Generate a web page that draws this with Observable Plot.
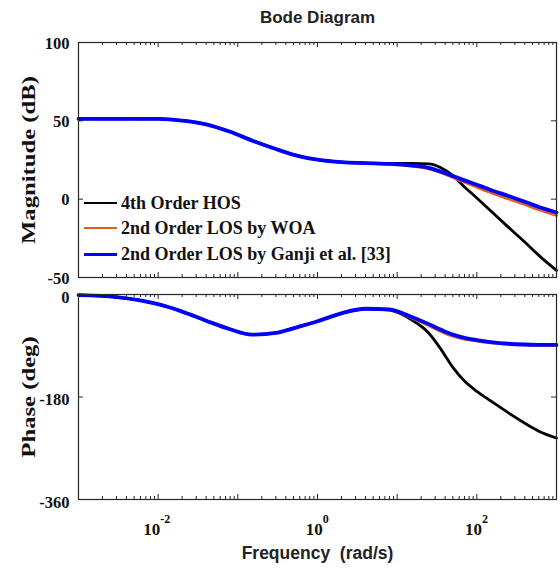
<!DOCTYPE html>
<html><head><meta charset="utf-8">
<script src="https://cdn.jsdelivr.net/npm/d3@7"></script>
<script src="https://cdn.jsdelivr.net/npm/@observablehq/plot@0.6"></script>
<style>
body{margin:0;background:#fff;}
#chart{position:relative;width:560px;height:570px;overflow:hidden;}
#chart svg{position:absolute;left:0;}
.leg{position:absolute;left:84px;font-family:"Liberation Serif",serif;font-weight:bold;font-size:18px;color:#111;white-space:nowrap;display:flex;align-items:center;}
.leg span.sw{display:inline-block;width:33px;margin-right:4px;}
</style>
</head><body><div id="chart"></div>
<script>
// Frequency samples (rad/s)
const freq = [0.001, 0.003, 0.01, 0.02, 0.04, 0.08, 0.15, 0.3, 0.6, 1, 2, 4, 8, 15, 25, 35, 50, 70, 100, 150, 250, 400, 600, 1000];
// Magnitude (dB)
const magHOS   = [51.3, 51.3, 51.2, 50.2, 47.8, 43.0, 37.5, 32.0, 27.3, 25.2, 23.6, 23.0, 22.8, 22.8, 22.5, 20.2, 15.0, 7.8, 0.8, -7.6, -18.0, -27.4, -35.9, -45.5];
const magWOA   = [51.3, 51.3, 51.2, 50.2, 47.8, 43.0, 37.5, 32.0, 27.3, 25.2, 23.6, 23.0, 22.3, 21.0, 19.3, 17.0, 13.8, 10.7, 7.6, 4.1, 0.1, -3.5, -6.8, -10.4];
const magGanji = [51.3, 51.3, 51.2, 50.2, 47.8, 43.0, 37.5, 32.0, 27.3, 25.2, 23.6, 23.0, 22.5, 21.6, 20.0, 17.7, 14.8, 12.0, 9.2, 5.9, 2.0, -1.7, -5.0, -8.5];
// Phase (deg)
const phaseHOS   = [-1, -4.5, -17, -30, -46, -61, -70.5, -67.5, -56, -47, -33, -25, -27.5, -44, -68, -95, -128, -152, -170, -187, -208, -226, -240, -252];
const phaseWOA   = [-1, -4.5, -17, -30, -46, -61, -70.5, -67.5, -56, -47, -33, -25, -26.5, -41, -55, -65, -73.5, -78.5, -82, -85, -87.5, -88.8, -89.3, -89.6];
const phaseGanji = [-1, -4.5, -17, -30, -46, -61, -70.5, -67.5, -56, -47, -33, -25, -26, -39, -52, -61.5, -70.5, -76, -80, -83.5, -86.5, -87.8, -88.3, -88.5];

const seriesNames = ["4th Order HOS", "2nd Order LOS by WOA", "2nd Order LOS by Ganji et al. [33]"];
const seriesColors = ["#000000", "#E2601F", "#0000FF"];
const seriesWidths = [2.8, 2.6, 3.8];
const magTicks = [-50, 0, 50, 100];
const phaseTicks = [-360, -180, 0];
const xLabelExps = [-2, 0, 2];
const title = "Bode Diagram";
const xTitle = "Frequency  (rad/s)";
const magTitle = "Magnitude (dB)";
const phaseTitle = "Phase (deg)";

const magSeries = [magHOS, magWOA, magGanji];
const phaseSeries = [phaseHOS, phaseWOA, phaseGanji];
function rows(series) {
  const out = [];
  series.forEach((vals, i) => vals.forEach((v, j) => out.push({s: i, x: freq[j], y: v})));
  return out;
}
const magRows = rows(magSeries);
const phaseRows = rows(phaseSeries);

const xDomain = [1e-3, 1e3];
const majorX = d3.range(-3, 4).map(e => 10 ** e);
const minorX = [];
for (let e = -3; e < 3; e++) for (let k = 2; k <= 9; k++) minorX.push(k * 10 ** e);

const W = 560, ML = 78, MR = 4;
const innerW = W - ML - MR;
const serif = "Liberation Serif, Times New Roman, serif";
const sans = "Liberation Sans, Arial, sans-serif";

function panel({data, domain, ticks, label, height, marginTop, marginBottom, tickDy, extra}) {
  const innerH = height - marginTop - marginBottom;
  const lineMarks = [0, 1, 2].map(i => Plot.line(data.filter(d => d.s === i), {
    x: "x", y: "y", stroke: seriesColors[i], strokeWidth: seriesWidths[i], curve: "monotone-x"
  }));
  const svg = Plot.plot({
    width: W, height, marginLeft: ML, marginRight: MR, marginTop, marginBottom,
    x: {type: "log", domain: xDomain, axis: null},
    y: {domain, axis: null},
    style: {fontFamily: serif, background: "transparent"},
    marks: [
      ...lineMarks,
      Plot.frame({stroke: "#262626", strokeWidth: 1.2}),
      Plot.tickX(minorX, {x: d => d, insetTop: innerH - 3, stroke: "#262626"}),
      Plot.tickX(majorX, {x: d => d, insetTop: innerH - 5, stroke: "#262626"}),
      Plot.tickX(minorX, {x: d => d, insetBottom: innerH - 3, stroke: "#262626"}),
      Plot.tickX(majorX, {x: d => d, insetBottom: innerH - 5, stroke: "#262626"}),
      Plot.tickY(ticks, {y: d => d, insetRight: innerW - 5, stroke: "#262626"}),
      Plot.tickY(ticks, {y: d => d, insetLeft: innerW - 5, stroke: "#262626"}),
      Plot.text(ticks, {y: d => d, frameAnchor: "left", dx: -9, dy: tickDy, textAnchor: "end", lineAnchor: "middle",
        text: d => String(d), fontSize: 16.5, fontWeight: "bold", fontFamily: serif, fill: "#111"}),
      Plot.text([label], {frameAnchor: "left", dx: -50, rotate: -90, textAnchor: "middle", lineAnchor: "middle",
        text: d => d, fontSize: 19, fontWeight: "bold", fontFamily: serif, fill: "#111", className: "ylab"}),
      ...(extra || [])
    ]
  });
  // the reference's rotated axis titles are drawn elongated along their reading direction
  d3.select(svg).selectAll(".ylab text").attr("transform", function () {
    return (this.getAttribute("transform") || "") + " scale(1.3,1)";
  });
  return svg;
}

const chart = document.getElementById("chart");

const p1 = panel({
  data: magRows, domain: [-50, 100], ticks: magTicks, label: magTitle,
  height: 300, marginTop: 42, marginBottom: 23, tickDy: 1,
  extra: [Plot.text([title], {frameAnchor: "top", dy: -25, lineAnchor: "middle", text: d => d, fontSize: 17,
    fontWeight: "bold", fontFamily: sans, fill: "#222"})]
});
p1.style.top = "0px";
chart.appendChild(p1);

const w10 = 17;
const expW = e => String(e).length * 6.5;
const xLabelMarks = xLabelExps.flatMap(e => {
  const shift = (w10 - expW(e)) / 2;
  return [
    Plot.text([e], {x: d => 10 ** d, frameAnchor: "bottom", dy: 30, dx: shift, textAnchor: "end",
      lineAnchor: "middle", text: () => "10", fontSize: 17, fontWeight: "bold", fontFamily: serif, fill: "#111"}),
    Plot.text([e], {x: d => 10 ** d, frameAnchor: "bottom", dy: 20, dx: shift, textAnchor: "start",
      lineAnchor: "middle", text: d => String(d), fontSize: 12, fontWeight: "bold", fontFamily: serif, fill: "#111"})
  ];
});
const p2 = panel({
  data: phaseRows, domain: [-360, 0], ticks: phaseTicks, label: phaseTitle,
  height: 285, marginTop: 9, marginBottom: 71, tickDy: 3,
  extra: [
    ...xLabelMarks,
    Plot.text([xTitle], {frameAnchor: "bottom", dy: 54, lineAnchor: "middle", text: d => d, fontSize: 17.5,
      fontWeight: "bold", fontFamily: sans, fill: "#222"})
  ]
});
p2.style.top = "285px";
chart.appendChild(p2);

// legend (inside magnitude panel, lower left)
const legTops = [203, 228, 254];
seriesNames.forEach((name, i) => {
  const div = document.createElement("div");
  div.className = "leg";
  div.style.top = (legTops[i] - 11) + "px";
  div.style.height = "22px";
  const sw = document.createElement("span");
  sw.className = "sw";
  sw.style.borderTop = `${seriesWidths[i]}px solid ${seriesColors[i]}`;
  div.appendChild(sw);
  div.appendChild(document.createTextNode(name));
  chart.appendChild(div);
});
</script>
</body></html>
